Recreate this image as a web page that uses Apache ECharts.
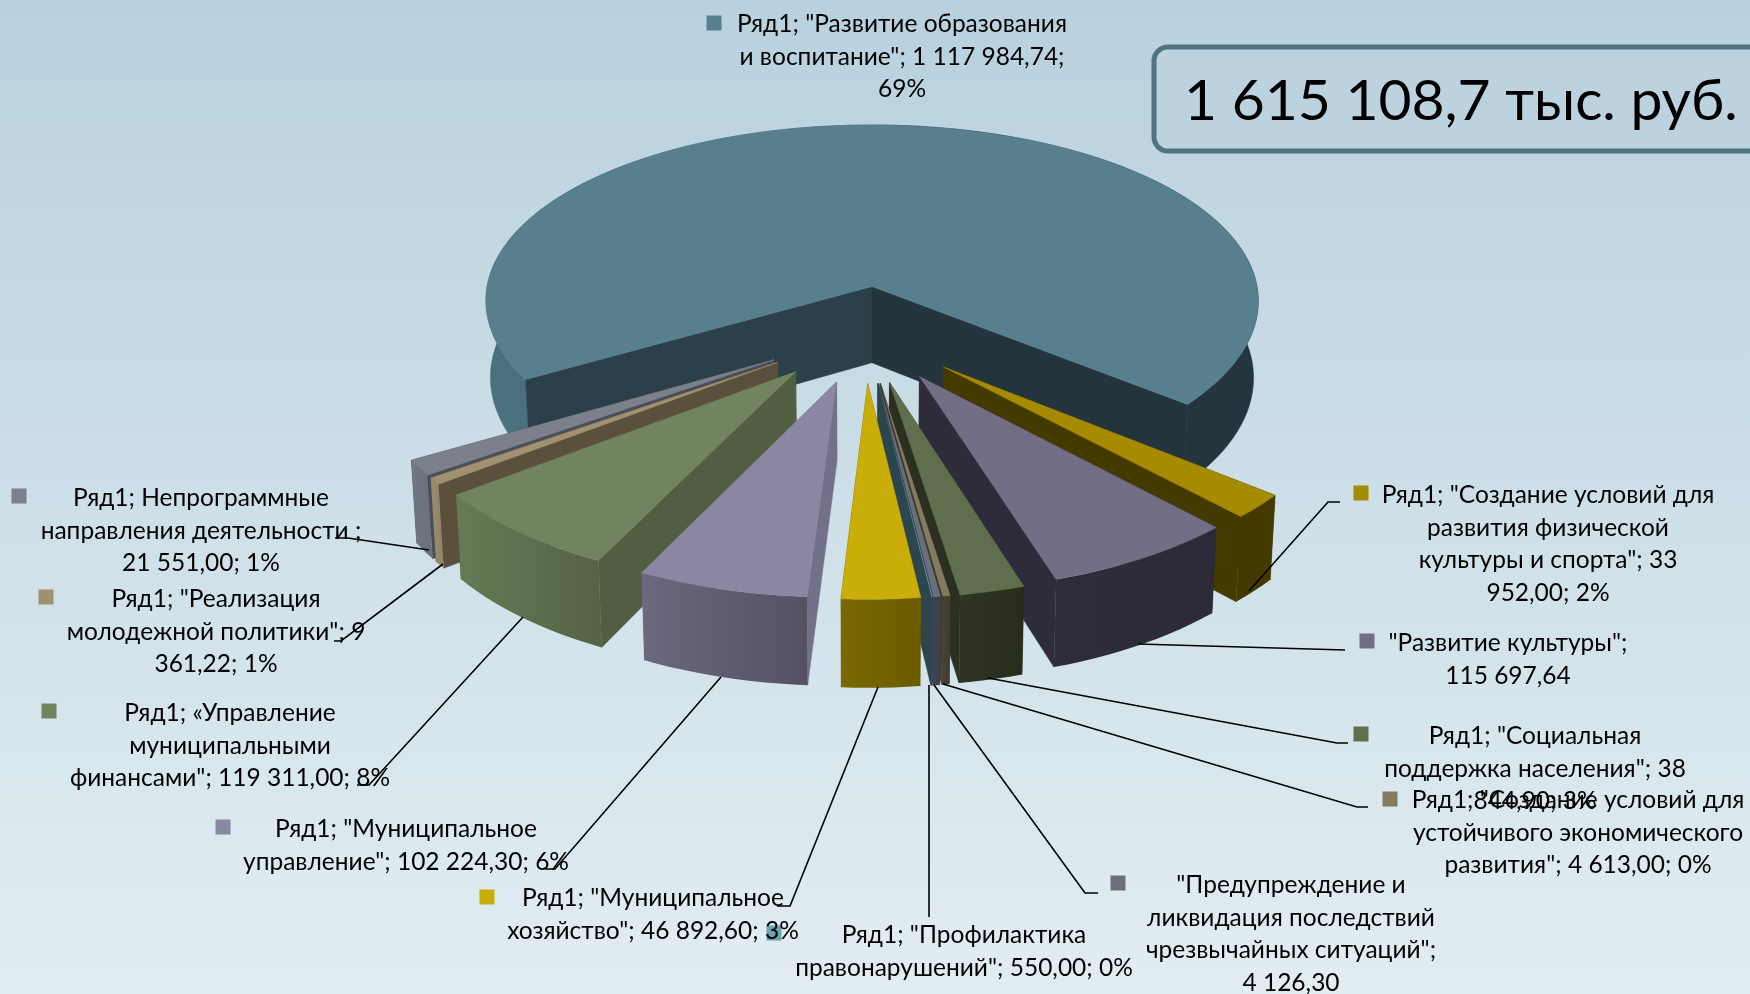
<!doctype html>
<html lang="ru">
<head>
    <meta charset="UTF-8">
    <title>3D pie</title>
    <script src="https://cdn.jsdelivr.net/npm/echarts@6/dist/echarts.min.js"></script>
    <style>
        html, body { margin: 0; padding: 0; }
        #chart { width: 1750px; height: 994px; }
    </style>
</head>
<body>
<div id="chart"></div>
<script>
    // data, clockwise from the big slice
    const categories = [
        'Развитие образования и воспитание', 'Создание условий для развития физической культуры и спорта',
        'Развитие культуры', 'Социальная поддержка населения', 'Создание условий для устойчивого экономического развития',
        'Предупреждение и ликвидация последствий чрезвычайных ситуаций', 'Профилактика правонарушений',
        'Муниципальное хозяйство', 'Муниципальное управление', 'Управление муниципальными финансами',
        'Реализация молодежной политики', 'Непрограммные направления деятельности'
    ]
    const values = [1117984.74, 33952, 115697.64, 38844.9, 4613, 4126.3, 550, 46892.6, 102224.3, 119311, 9361.22, 21551]
    const labelTexts = [
        'Ряд1; "Развитие образования\nи воспитание"; 1 117 984,74;\n69%',
        'Ряд1; "Создание условий для\nразвития физической\nкультуры и спорта"; 33\n952,00; 2%',
        '"Развитие культуры";\n115 697,64',
        'Ряд1; "Социальная\nподдержка населения"; 38\n844,90; 3%',
        'Ряд1; "Создание условий для\nустойчивого экономического\nразвития"; 4 613,00; 0%',
        '"Предупреждение и\nликвидация последствий\nчрезвычайных ситуаций";\n4 126,30',
        'Ряд1; "Профилактика\nправонарушений"; 550,00; 0%',
        'Ряд1; "Муниципальное\nхозяйство"; 46 892,60; 3%',
        'Ряд1; "Муниципальное\nуправление"; 102 224,30; 6%',
        'Ряд1; «Управление\nмуниципальными\nфинансами"; 119 311,00; 8%',
        'Ряд1; "Реализация\nмолодежной политики"; 9\n361,22; 1%',
        'Ряд1; Непрограммные\nнаправления деятельности ;\n21 551,00; 1%'
    ]
    const totalText = '1 615 108,7 тыс. руб.'

    // slice colours: top, wall at start angle, wall at end angle, rim left, rim right
    const sliceColors = [
        ['#587f8e', '#2c404a', '#24343d', '#4a6f7f', '#24353e'],
        ['#a68a00', '#443a00', '#443a00', '#443a00', '#443a00'],
        ['#726e85', '#2e2b3a', '#2e2b3a', '#302c3a', '#2d2a37'],
        ['#5f6e4d', '#2b3021', '#2b3021', '#2f3423', '#272c1e'],
        ['#857a60', '#3f3a2e', '#3f3a2e', '#4a4436', '#3f3a2e'],
        ['#6b6f7a', '#3f4450', '#3f4450', '#3f4450', '#3a3f4a'],
        ['#6ba3b3', '#2c4650', '#2c4650', '#2c4650', '#2c4650'],
        ['#c9ad08', '#6a5b00', '#6a5b00', '#7a6900', '#6a5b00'],
        ['#8b87a2', '#73708a', '#73708a', '#6b687f', '#555062'],
        ['#72845f', '#525e42', '#525e42', '#667a55', '#556444'],
        ['#a09270', '#5a503b', '#5a503b', '#9a8c6e', '#8f8468'],
        ['#7b808c', '#494e58', '#494e58', '#707782', '#6a717c']
    ]
    const markerColors = ['#587f8e', '#a68a00', '#726e85', '#5f6e4d', '#857a60', '#6b6f7a', '#6ba3b3', '#c9ad08', '#8b87a2', '#72845f', '#a09270', '#7b808c']

    // label layout (centre x, centre y of first line), legend keys, leader lines
    const labelPos = [[902, 24], [1548, 495], [1508, 643], [1535, 736], [1578, 800], [1291, 885], [964, 935], [653, 898], [406, 829], [230, 713], [216, 599], [201, 498]]
    const markerPos = [[714, 23], [1361, 493], [1367, 641], [1361, 734], [1390, 799], [1118, 883], [774, 933], [487, 897], [223, 827], [49, 711], [46, 597], [19, 496]]
    const leaders = [
        null,
        [[1249, 591], [1328, 502], [1340, 502]],
        [[1138, 644], [1345, 650]],
        [[988, 678], [1337, 743], [1348, 743]],
        [[943, 684], [1357, 807], [1368, 807]],
        [[934, 685], [1085, 893], [1098, 893]],
        [[929, 685], [929, 917]],
        [[878, 687], [790, 906], [777, 906]],
        [[721, 677], [555, 869], [545, 869]],
        [[523, 617], [369, 785], [357, 785]],
        [[443, 564], [341, 641], [334, 641]],
        [[429, 550], [348, 538], [335, 538]]
    ]

    // 3d pie camera
    const cx = 864.5, cy = 332.5, R = 393, T = 185, H = 78
    const perspX = 0.082, perspY = 0.094, explode = 0.27, bigExplode = 0.255, firstSliceEnd = 129, bottomShrink = 0.988
    const font = 'Lato, "Noto Sans", sans-serif'

    const total = values.reduce((a, b) => a + b, 0)
    const rad = d => d * Math.PI / 180
    // start/end angle for each slice, clockwise from the back of the pie
    const angles = []
    let acc = firstSliceEnd - values[0] / total * 360
    values.forEach(v => {
        const sweep = v / total * 360
        angles.push([acc, acc + sweep])
        acc += sweep
    })
    angles.forEach(a => { if (a[0] < 0) { a[0] += 360; a[1] += 360 } })

    function project(a, r, mid, bottom, e) {
        const x = e * Math.sin(rad(mid)) + r * Math.sin(rad(a))
        const y = -e * Math.cos(rad(mid)) - r * Math.cos(rad(a))
        const sx = 1 / (1 - perspX * y), sy = 1 / (1 - perspY * y)
        const k = bottom ? bottomShrink : 1
        return [cx + R * x * sx * k, cy + T * y * sy + (bottom ? H * sy : 0)]
    }

    function arc(a0, a1, mid, bottom, e) {
        const n = Math.max(2, Math.ceil(Math.abs(a1 - a0) / 2))
        const pts = []
        for (let i = 0; i <= n; i++) pts.push(project(a0 + (a1 - a0) * i / n, 1, mid, bottom, e))
        return pts
    }

    function poly(points, fill, thin) {
        const stroke = typeof fill === 'string' && !thin ? fill : null
        return {type: 'polygon', shape: {points}, style: {fill, stroke, lineWidth: 0.5}}
    }

    function rim(a0, a1, mid, left, right, e) {
        const top = arc(a0, a1, mid, false, e)
        const low = arc(a0, a1, mid, true, e).reverse()
        // gradient runs left to right on screen
        const fill = new echarts.graphic.LinearGradient(0, 0, 1, 0, [{offset: 0, color: left}, {offset: 1, color: right}])
        return poly(top.concat(low), fill)
    }

    function wall(a, mid, color, e) {
        const tip = project(a, 0, mid, false, e), tipLow = project(a, 0, mid, true, e)
        const out = project(a, 1, mid, false, e), outLow = project(a, 1, mid, true, e)
        return poly([tip, out, outLow, tipLow], color)
    }

    function renderSlice(params, api) {
        const i = api.value(0)
        const [a0, a1] = angles[i]
        const mid = (a0 + a1) / 2
        const c = sliceColors[i]
        const big = a1 - a0 > 180
        const e = big ? bigExplode : explode
        const children = []
        if (big) {
            // big slice: split the rim at the back, it is hidden there anyway
            children.push(poly(arc(a0, 360, mid, false, e).concat(arc(a0, 360, mid, true, e).reverse()), c[3]))
            children.push(poly(arc(360, a1, mid, false, e).concat(arc(360, a1, mid, true, e).reverse()), c[4]))
            children.push(wall(a0, mid, c[1], e), wall(a1, mid, c[2], e))
        } else {
            children.push(wall(a0, mid, c[1], e), wall(a1, mid, c[2], e))
            children.push(rim(a0, a1, mid, c[3], c[4], e))
        }
        const topPts = [project(a0, 0, mid, false, e)].concat(arc(a0, a1, mid, false, e))
        children.push(poly(topPts, c[0], a1 - a0 < 1.5))
        return {type: 'group', children}
    }

    // back to front
    const drawOrder = values.map((v, i) => i).sort((p, q) => {
        const d = i => -Math.cos(rad((angles[i][0] + angles[i][1]) / 2))
        return d(p) - d(q)
    })

    const elements = []
    // total box runs off the right edge
    elements.push({
        type: 'rect',
        shape: {x: 1154, y: 47, width: 640, height: 104, r: 14},
        style: {fill: '#bcd3df', stroke: '#507282', lineWidth: 5}
    })
    elements.push({
        type: 'text',
        style: {text: totalText, x: 1184, y: 102, fill: '#000', fontSize: 57, fontFamily: font, align: 'left', verticalAlign: 'middle'}
    })
    labelTexts.forEach((text, i) => {
        elements.push({
            type: 'rect',
            shape: {x: markerPos[i][0] - 7.5, y: markerPos[i][1] - 7.5, width: 15, height: 15},
            style: {fill: markerColors[i]}, z: 10
        })
    })
    labelTexts.forEach((text, i) => {
        elements.push({
            type: 'text', z: 11,
            style: {
                text, x: labelPos[i][0], y: labelPos[i][1] - 16,
                fill: '#000', fontSize: 24.5, lineHeight: 32.6, fontFamily: font,
                align: 'center', verticalAlign: 'top'
            }
        })
    })
    leaders.forEach(points => {
        if (!points) return
        elements.push({type: 'polyline', z: 12, shape: {points}, style: {stroke: '#000', lineWidth: 1.6, fill: null}})
    })

    const chart = echarts.init(document.getElementById('chart'))
    chart.setOption({
        animation: false,
        backgroundColor: new echarts.graphic.LinearGradient(0, 0, 0, 1, [
            {offset: 0, color: '#b8d1de'},
            {offset: 1, color: '#e2edf2'}
        ]),
        graphic: {elements},
        series: [{
            type: 'custom',
            coordinateSystem: 'none',
            silent: true,
            renderItem: renderSlice,
            data: drawOrder.map(i => ({name: categories[i], value: [i, values[i]]}))
        }]
    })
</script>
</body>
</html>
